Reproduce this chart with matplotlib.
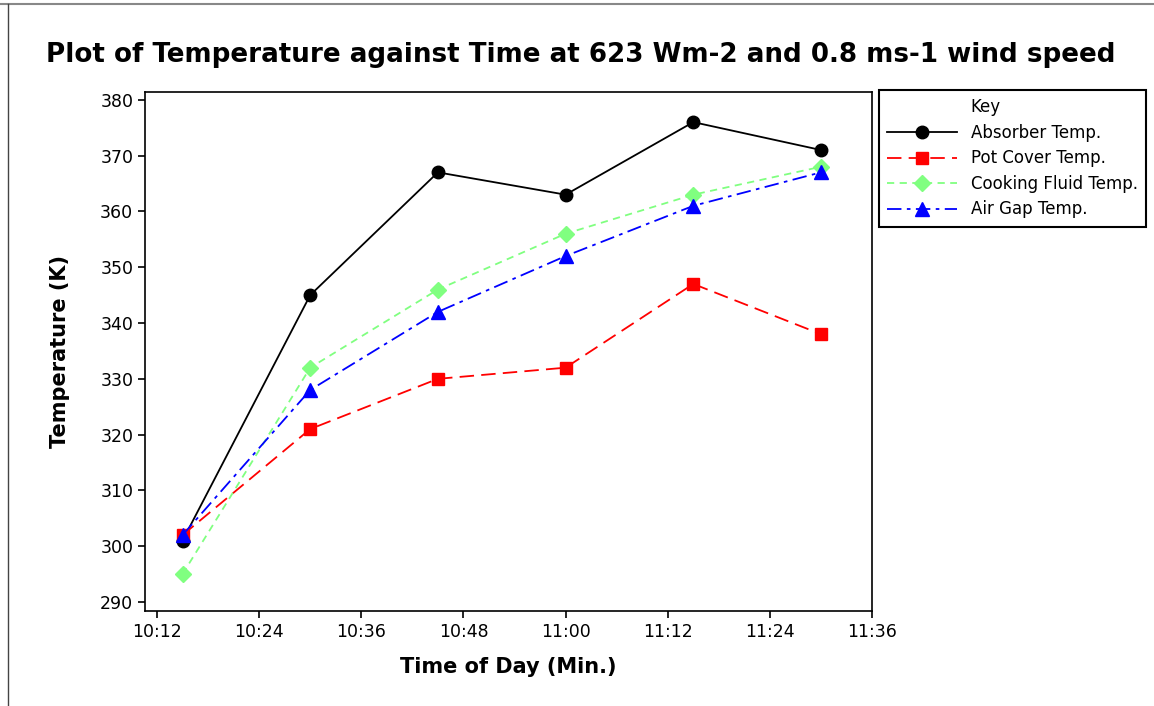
import matplotlib
matplotlib.use('Agg')
from matplotlib import pyplot as plt
from matplotlib.lines import Line2D
from matplotlib.ticker import FixedLocator, FuncFormatter

# time of day in minutes after midnight (10:15 ... 11:30)
time_min = [615, 630, 645, 660, 675, 690]
absorber = [301, 345, 367, 363, 376, 371]
pot_cover = [302, 321, 330, 332, 347, 338]
cooking_fluid = [295, 332, 346, 356, 363, 368]
air_gap = [302, 328, 342, 352, 361, 367]
x_ticks = [612, 624, 636, 648, 660, 672, 684, 696]

plt.rcParams['font.family'] = ['DejaVu Sans']

fig = plt.figure(figsize=(11.54, 7.06), dpi=100)
ax = fig.add_axes([0.1257, 0.1346, 0.63, 0.7351])

ax.plot(time_min, absorber, color='black', linestyle='-', linewidth=1.3,
        marker='o', markersize=9, label='Absorber Temp.')
ax.plot(time_min, pot_cover, color='red', linestyle=(0, (8, 4)), linewidth=1.3,
        marker='s', markersize=9, label='Pot Cover Temp.')
ax.plot(time_min, cooking_fluid, color='#80ff80', linestyle=(0, (4, 3)), linewidth=1.3,
        marker='D', markersize=8, label='Cooking Fluid Temp.')
ax.plot(time_min, air_gap, color='blue', linestyle=(0, (8, 3, 2, 3)), linewidth=1.3,
        marker='^', markersize=10, label='Air Gap Temp.')

ax.set_xlim(610.6, 696)
ax.set_ylim(288.4, 381.4)
ax.xaxis.set_major_locator(FixedLocator(x_ticks))
ax.xaxis.set_major_formatter(FuncFormatter(lambda v, p: '%d:%02d' % (int(v) // 60, int(v) % 60)))
ax.set_yticks(range(290, 381, 10))
ax.tick_params(labelsize=12.5, length=5, width=1.2)
for s in ax.spines.values():
    s.set_linewidth(1.2)

ax.set_xlabel('Time of Day (Min.)', fontsize=15, fontweight='bold', labelpad=12)
ax.set_ylabel('Temperature (K)', fontsize=15, fontweight='bold', labelpad=22)

fig.text(0.503, 0.922, 'Plot of Temperature against Time at 623 Wm-2 and 0.8 ms-1 wind speed',
         ha='center', va='center', fontsize=18.8, fontweight='bold')

# "Key" as a first legend row with no handle, so it lines up with the labels
handles, labels = ax.get_legend_handles_labels()
key = Line2D([], [], linestyle='none', marker='none')
leg = fig.legend([key] + handles, ['Key'] + labels, loc='upper left',
                 bbox_to_anchor=(0.7617, 0.8725), borderaxespad=0,
                 fontsize=12, fancybox=False, edgecolor='black',
                 framealpha=1, borderpad=0.5, labelspacing=0.45, handlelength=4.2)
leg.get_frame().set_linewidth(1.5)

# outer frame of the original screenshot
fig.add_artist(Line2D([0, 1], [0.994, 0.994], color='#888888', linewidth=1.5))
fig.add_artist(Line2D([0.007, 0.007], [0, 0.994], color='#444444', linewidth=1))

plt.savefig('out.png', dpi=100)
